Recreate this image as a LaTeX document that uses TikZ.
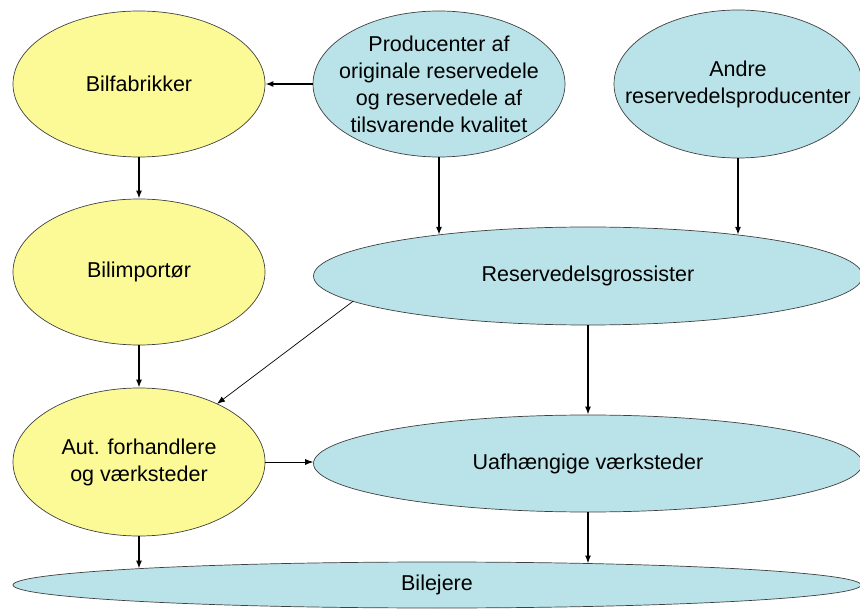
\documentclass[tikz,border=0pt]{standalone}
\usepackage{fontspec}
\setmainfont{Liberation Sans}
\usetikzlibrary{shapes.geometric,arrows.meta,calc}

\definecolor{carfill}{RGB}{252,250,150}
\definecolor{partfill}{RGB}{185,227,232}

\begin{document}
\begin{tikzpicture}[x=1pt,y=-1pt,
  actor/.style={ellipse,draw=black!75,line width=0.7pt,inner sep=0pt},
  car/.style={actor,fill=carfill},
  part/.style={actor,fill=partfill},
  every label/.style={align=center,font=\fontsize{21.5}{27}\selectfont},
  flow/.style={-{Latex[length=8pt,width=6pt]},line width=1.4pt},
  thinflow/.style={-{Latex[length=8pt,width=6pt]},line width=0.7pt}]

\useasboundingbox (0,0) rectangle (860,612);

% Car makers chain
\node (fab) at (139,84) [car,minimum width=252pt,minimum height=146pt,label=center:Bilfabrikker] {};
\node (imp) at (139,272) [car,minimum width=252pt,minimum height=146pt,label=center:Bilimportør] {};
\node (aut) at (139,462) [car,minimum width=252pt,minimum height=148pt,
  label={center:Aut. forhandlere\\og værksteder}] {};

% Parts makers
\node (prod) at (439,84) [part,minimum width=252pt,minimum height=146pt,
  label={center:Producenter af\\originale reservedele\\og reservedele af\\tilsvarende kvalitet}] {};
\node (andre) at (738,84) [part,minimum width=248pt,minimum height=148pt,
  label={center:Andre\\reservedelsproducenter}] {};

% Trade and repair
\node (gross) at (588,276) [part,minimum width=549pt,minimum height=98pt,label=center:Reservedelsgrossister] {};
\node (uaf) at (588,463.5) [part,minimum width=549pt,minimum height=97pt,label=center:Uafhængige værksteder] {};

% Owners
\node (ejere) at (437,585) [part,minimum width=848pt,minimum height=46pt,label=center:Bilejere] {};

% Points where the arrows meet the flat ellipses
\coordinate (grossa) at ($(gross)+(-149,-41.1)$);
\coordinate (grossb) at ($(gross)+(150,-41.1)$);
\coordinate (grossc) at ($(gross)+(-235,25.3)$);
\coordinate (autc) at ($(aut)+(78,-58.1)$);
\coordinate (ejerea) at ($(ejere)+(-298,-16.4)$);
\coordinate (ejereb) at ($(ejere)+(151,-21.5)$);

% Flows
\draw[flow] (prod.west) -- (fab.east);
\draw[flow] (fab.south) -- (imp.north);
\draw[flow] (imp.south) -- (aut.north);
\draw[flow] (prod.south) -- (grossa);
\draw[flow] (andre.south) -- (grossb);
\draw[thinflow] (grossc) -- (autc);
\draw[flow] (gross.south) -- (uaf.north);
\draw[thinflow] (aut.east) -- (aut.east -| uaf.west);
\draw[flow] (aut.south) -- (ejerea);
\draw[flow] (uaf.south) -- (ejereb);

\end{tikzpicture}
\end{document}
